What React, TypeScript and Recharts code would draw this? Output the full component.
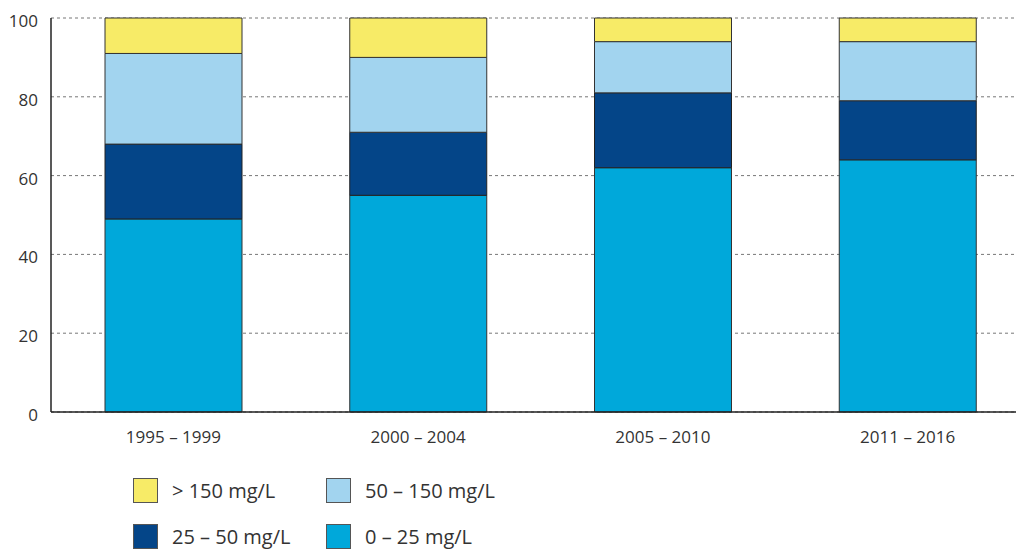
import { BarChart, Bar, XAxis, YAxis, CartesianGrid } from 'recharts'

// Share of samples per concentration class (%), per period
const periods = ['1995 – 1999', '2000 – 2004', '2005 – 2010', '2011 – 2016']
const low = [49, 55, 62, 64] // 0 – 25 mg/L
const midLow = [19, 16, 19, 15] // 25 – 50 mg/L
const midHigh = [23, 19, 13, 15] // 50 – 150 mg/L
const high = [9, 10, 6, 6] // > 150 mg/L
const yTicks = [0, 20, 40, 60, 80, 100]

const COLORS = {
	low: '#00a8da',
	midLow: '#044588',
	midHigh: '#a2d4ef',
	high: '#f7eb67',
}

const FONT = '"Open Sans", "Noto Sans", sans-serif'

const data = periods.map((period, i) => ({
	period,
	low: low[i],
	midLow: midLow[i],
	midHigh: midHigh[i],
	high: high[i],
}))

const legendItems = [
	{ label: '> 150 mg/L', color: COLORS.high, x: 133, y: 478 },
	{ label: '50 – 150 mg/L', color: COLORS.midHigh, x: 326, y: 478 },
	{ label: '25 – 50 mg/L', color: COLORS.midLow, x: 133, y: 524 },
	{ label: '0 – 25 mg/L', color: COLORS.low, x: 326, y: 524 },
]

export default function App() {
	return (
		<div
			style={{
				position: 'absolute',
				left: 0,
				top: 0,
				width: 1016,
				height: 549,
				overflow: 'hidden',
				background: '#fff',
				fontFamily: FONT,
			}}
		>
			<BarChart
				width={1030}
				height={460}
				data={data}
				margin={{ top: 18, right: 0, bottom: 0, left: 0 }}
				barSize={137}
			>
				<CartesianGrid vertical={false} stroke="#777" strokeDasharray="3 3" />
				<XAxis
					dataKey="period"
					height={48}
					tickLine={false}
					axisLine={{ stroke: '#222', strokeWidth: 1.5 }}
					tick={{ fill: '#333', fontSize: 17, fontFamily: FONT }}
					tickMargin={13}
				/>
				<YAxis
					width={51}
					domain={[0, 100]}
					ticks={yTicks}
					tickLine={false}
					axisLine={{ stroke: '#222', strokeWidth: 1.5 }}
					tick={{ fill: '#333', fontSize: 17, fontFamily: FONT, dy: 3 }}
					tickMargin={7}
					interval={0}
				/>
				<Bar dataKey="low" stackId="a" fill={COLORS.low} stroke="#333" isAnimationActive={false} />
				<Bar dataKey="midLow" stackId="a" fill={COLORS.midLow} stroke="#222" isAnimationActive={false} />
				<Bar dataKey="midHigh" stackId="a" fill={COLORS.midHigh} stroke="#333" isAnimationActive={false} />
				<Bar dataKey="high" stackId="a" fill={COLORS.high} stroke="#333" isAnimationActive={false} />
			</BarChart>
			{legendItems.map((item) => (
				<div
					key={item.label}
					style={{
						position: 'absolute',
						left: item.x,
						top: item.y,
						display: 'flex',
						alignItems: 'center',
						height: 25,
					}}
				>
					<div
						style={{
							width: 23,
							height: 23,
							background: item.color,
							border: '1px solid #555',
						}}
					/>
					<span
						style={{
							marginLeft: 14,
							fontSize: 20,
							lineHeight: '20px',
							color: '#333',
							whiteSpace: 'nowrap',
						}}
					>
						{item.label}
					</span>
				</div>
			))}
		</div>
	)
}
